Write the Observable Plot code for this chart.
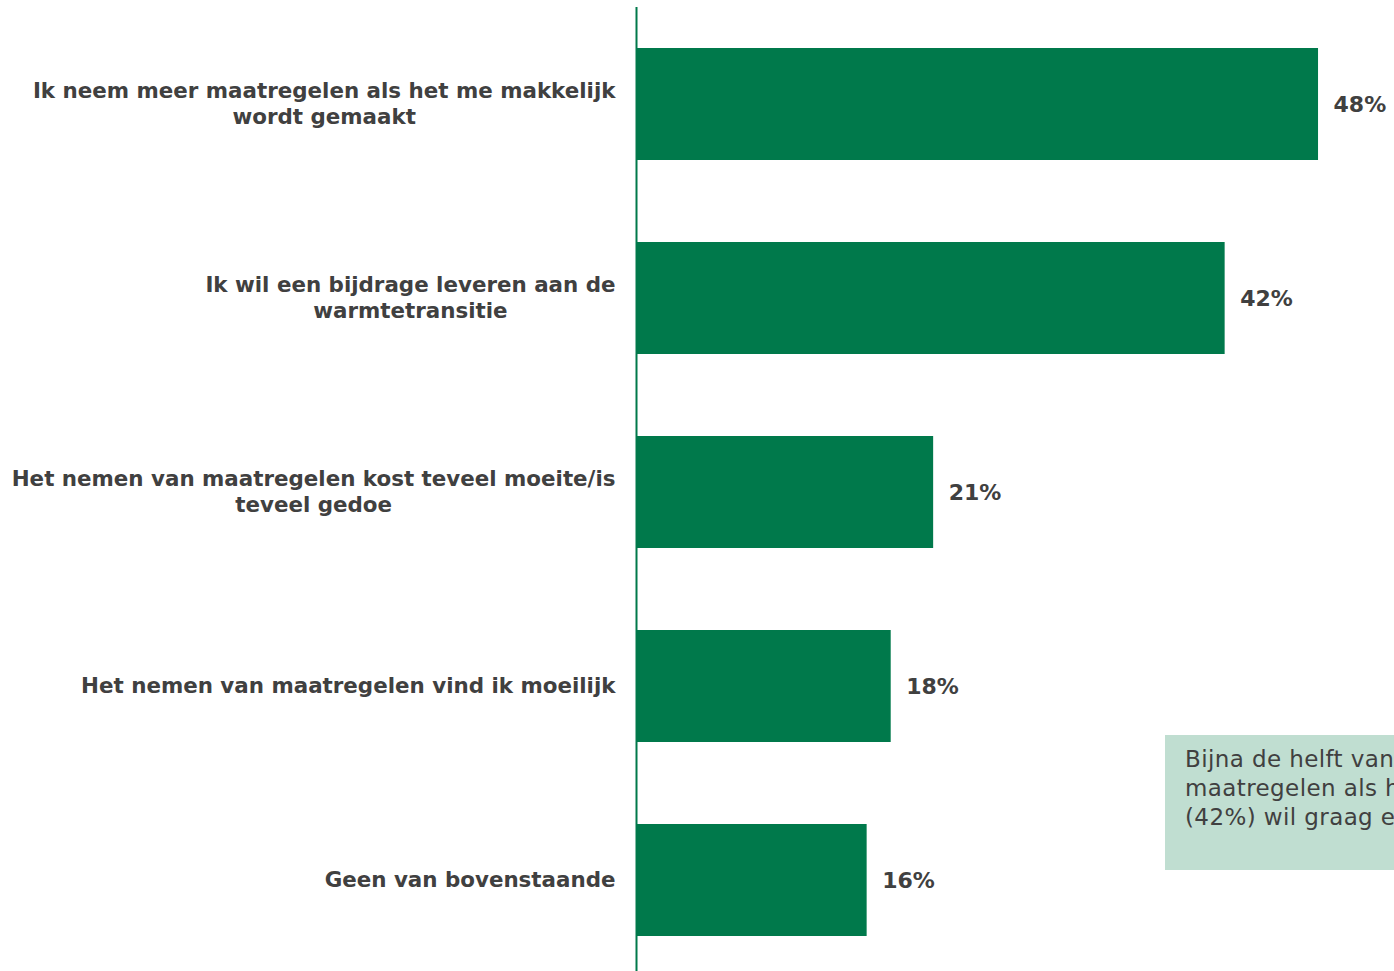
<!DOCTYPE html>
<html>
<head>
<meta charset="utf-8">
<script src="https://cdn.jsdelivr.net/npm/d3@7"></script>
<script src="https://cdn.jsdelivr.net/npm/@observablehq/plot@0.6"></script>
<style>
  html, body { margin: 0; padding: 0; background: #fff; overflow: hidden; }
  #wrap { position: relative; width: 1394px; height: 971px; overflow: hidden; }
  #note {
    position: absolute; left: 1165px; top: 735px; width: 600px; height: 135px;
    background: #c0ded1; box-sizing: border-box; padding: 10px 20px;
    font-family: "DejaVu Sans", Verdana, sans-serif; font-size: 23px; line-height: 29px;
    letter-spacing: 0.4px; color: #404040; white-space: nowrap;
  }
</style>
</head>
<body>
<div id="wrap"><div id="chart"></div><div id="note"></div></div>
<script>
const categories = [
  "Ik neem meer maatregelen als het me makkelijk\nwordt gemaakt",
  "Ik wil een bijdrage leveren aan de\nwarmtetransitie",
  "Het nemen van maatregelen kost teveel moeite/is\nteveel gedoe",
  "Het nemen van maatregelen vind ik moeilijk",
  "Geen van bovenstaande"
];
const values = [48.2, 41.6, 21.0, 18.0, 16.3];
const valueLabels = ["48%", "42%", "21%", "18%", "16%"];
const noteLines = [
  "Bijna de helft van de respondenten neemt meer",
  "maatregelen als het makkelijk wordt gemaakt. Ruim vier op de tien",
  "(42%) wil graag een bijdrage leveren aan de warmtetransitie."
];

const data = categories.map((c, i) => ({cat: c, value: values[i], label: valueLabels[i]}));

const green = "#00794b";
const textColor = "#404040";
const fontFamily = "'DejaVu Sans', Verdana, sans-serif";
const labelSize = 21.4;
const valueSize = 22;

const ctx = document.createElement("canvas").getContext("2d");
ctx.font = `bold ${labelSize}px ${fontFamily}`;
function blockWidth(s) {
  return Math.max(...s.split("\n").map(l => ctx.measureText(l).width));
}

const marginLeft = 636;
const width = 1394, height = 971;
const pxPerPct = 14.15;

const labelMarks = data.map(d => {
  const w = blockWidth(d.cat);
  return Plot.text([d], {
    y: "cat", text: "cat", frameAnchor: "left", textAnchor: "middle",
    dx: -21 - w / 2, dy: -2, lineHeight: 1.22,
    fill: textColor, fontWeight: "bold", fontSize: labelSize
  });
});

const chart = Plot.plot({
  width, height,
  marginLeft, marginRight: 0, marginTop: 7, marginBottom: 0,
  style: {fontFamily, background: "transparent", overflow: "hidden"},
  x: {domain: [0, (width - marginLeft) / pxPerPct], axis: null},
  y: {domain: categories, range: [7, 977], paddingInner: 0.423, paddingOuter: 0.2115, axis: null},
  marks: [
    Plot.barX(data, {x: "value", y: "cat", fill: green}),
    ...labelMarks,
    Plot.text(data, {
      x: "value", y: "cat", text: "label", dx: 15, textAnchor: "start",
      fill: textColor, fontWeight: "bold", fontSize: valueSize,
      letterSpacing: "2px"
    }),
    Plot.ruleX([0], {stroke: green, strokeWidth: 2})
  ]
});
document.getElementById("chart").appendChild(chart);
document.getElementById("note").innerHTML = noteLines.join("<br>");
</script>
</body>
</html>
